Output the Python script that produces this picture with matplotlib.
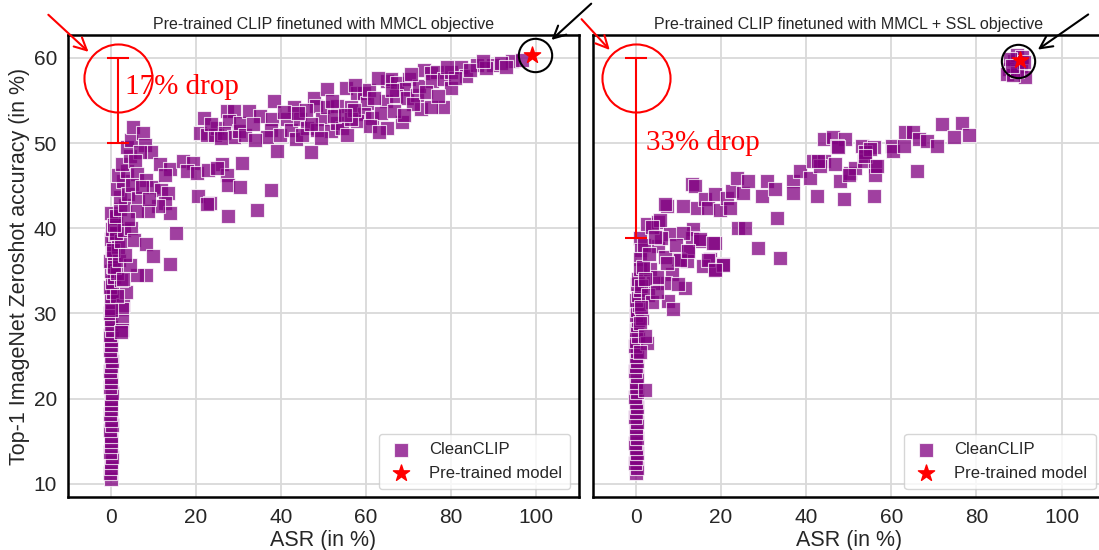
import matplotlib
matplotlib.use("Agg")
import matplotlib.pyplot as plt

plt.rcParams['font.family'] = ['Liberation Sans', 'DejaVu Sans']

# ---- CleanCLIP runs, MMCL objective: (ASR %, top-1 zero-shot accuracy %) ----
mmcl_asr = [
    0.1, -0.1, 0.2, 0.0, 0.3, -0.2, 0.1, 0.2, 0.0, -0.1, 0.3, 0.1, -0.2, 0.2, 0.0, 0.1, 0.3,
    -0.1, 0.0, 0.2, -0.2, 0.1, 0.3, 0.0, -0.1, 0.2, 0.1, -0.2, 0.3, 0.0, 0.2, -0.1, 0.1, 0.4,
    0.0, 0.6, -0.2, 0.3, 0.8, 0.1, 0.5, -0.1, 0.9, 0.3, 0.6, 0.0, 1.0, 0.4, 0.7, 1.2, 0.2,
    2.9, 2.7, 2.7, 2.6, 3.7, 2.5, 1.5, 0.9, 2.0, 1.8, 0.6, 2.5, 1.3, 3.2, 4.9, 0.9, 1.3, 2.2,
    3.5, 2.1, 1.5, 2.9, 1.8, 3.9, 2.6, 4.5, 3.9, 4.9, 5.3, 7.6, 8.0, 9.6, 6.9, 5.8, 6.3, 4.2,
    5.1, 6.5, 8.4, 10.0, 11.9, 13.5, 12.8, 14.0, 11.2, 8.8, 6.1, 7.3, 9.0, 4.0, 5.5, 15.4,
    8.3, 10.0, 13.9, 8.3, 6.1, 4.6, 3.4, 3.0, 1.6, 0.2, 2.5,
    11.6, 14.0, 17.1, 19.4, 17.9, 20.2, 23.0, 26.1, 27.3, 30.9, 27.7, 30.5, 37.6, 20.6, 23.4,
    22.6, 27.5, 34.4, 25.0, 12.8,
    21.9, 21.1, 22.7, 25.0, 24.6, 27.4, 28.9, 27.8, 26.6, 28.9, 30.1, 30.4, 32.5, 35.2, 38.3,
    37.9, 37.6, 36.8, 39.0, 39.9, 43.1, 41.5, 42.3, 43.5, 44.6, 46.2, 47.1, 47.8, 48.2, 49.7,
    48.5, 50.9, 50.9, 51.7, 53.3, 54.4, 53.3, 55.2, 56.4, 55.6, 58.0, 59.5, 60.3, 59.5, 61.5,
    58.0, 56.4, 65.0, 68.5, 65.0, 65.8, 67.4, 70.1, 68.9, 64.6, 67.0, 69.7, 72.1, 72.9, 72.5,
    73.6, 75.2, 76.8, 75.5, 78.4, 79.9, 79.9, 78.2, 75.2, 82.3, 83.5, 86.2, 89.8, 88.3, 94.3,
    96.6, 91.7,
    23.5, 26.0, 31.5, 33.5, 34.0, 40.8, 45.0, 45.8, 47.0, 52.0, 52.5, 57.2, 57.5, 60.8, 62.0,
    62.8, 63.5, 66.2, 70.6, 71.0, 74.0, 77.0, 81.0, 84.5, 87.5, 93.0, 44.0, 49.5, 55.0, 61.0,
    66.5, 63.0, 69.0, 79.0,
]
mmcl_acc = [
    10.6, 11.2, 11.9, 12.5, 13.1, 13.7, 14.4, 15.0, 15.6, 16.3, 16.9, 17.5, 18.2, 18.8, 19.4,
    20.0, 20.7, 21.3, 21.9, 22.5, 23.2, 23.8, 24.4, 25.0, 25.7, 26.3, 26.9, 27.5, 28.1, 28.8,
    29.4, 30.0, 30.6, 31.3, 31.9, 32.5, 33.1, 33.7, 34.3, 35.0, 35.6, 36.2, 36.8, 37.4, 38.1,
    38.7, 39.3, 39.9, 40.5, 41.2, 41.8,
    31.0, 30.5, 29.1, 28.0, 32.5, 33.9, 34.8, 35.5, 36.3, 37.8, 37.4, 38.5, 39.5, 39.8, 40.0,
    40.4, 41.4, 42.3, 42.7, 43.7, 44.6, 45.5, 46.2, 46.7, 47.5, 48.5, 49.6, 50.4, 51.9, 51.2,
    49.8, 49.0, 48.9, 47.9, 46.4, 44.0, 45.1, 43.6, 45.7, 44.9, 44.5, 44.2, 43.0, 41.8, 42.6,
    42.0, 42.0, 44.8, 43.4, 41.1, 38.6, 39.4, 38.1, 36.8, 35.8, 34.5, 34.5, 35.7, 36.9, 34.0,
    32.0, 30.4, 27.8,
    47.5, 47.0, 47.9, 47.7, 46.7, 46.5, 46.9, 47.5, 46.3, 47.7, 45.1, 44.9, 44.5, 43.8, 43.0,
    42.8, 41.4, 42.2, 47.1, 46.3,
    53.0, 51.2, 50.9, 51.8, 50.9, 53.8, 53.8, 52.6, 51.2, 50.7, 51.4, 52.4, 53.8, 53.2, 54.9,
    52.8, 51.6, 50.7, 49.1, 50.9, 54.2, 52.8, 51.6, 50.5, 52.8, 51.8, 48.9, 55.3, 54.4, 52.8,
    51.6, 54.2, 56.3, 51.4, 52.4, 51.8, 54.4, 56.5, 54.2, 50.9, 55.9, 55.9, 54.7, 53.4, 53.0,
    52.6, 52.8, 51.8, 52.5, 57.3, 57.5, 57.1, 57.5, 56.3, 54.9, 55.5, 55.3, 55.7, 54.0, 56.7,
    58.6, 58.2, 58.4, 57.3, 57.5, 58.4, 56.5, 54.2, 54.2, 59.0, 57.9, 59.2, 59.2, 58.8, 59.7,
    59.8, 59.4,
    52.2, 50.6, 50.9, 52.3, 50.4, 53.6, 51.0, 53.9, 52.3, 55.0, 53.2, 53.9, 56.8, 56.2, 55.3,
    57.6, 53.5, 56.2, 58.1, 54.6, 56.0, 55.5, 57.7, 58.6, 59.6, 58.9, 53.5, 50.6, 53.3, 52.0,
    53.8, 51.3, 53.3, 59.0,
]

# ---- CleanCLIP runs, MMCL + SSL objective ----
ssl_asr = [
    0.0, 0.2, -0.1, 0.1, 0.3, 0.0, -0.2, 0.2, 0.1, 0.0, 0.3, -0.1, 0.1, 0.2, 0.0, -0.2, 0.3,
    0.1, 0.0, 0.2, -0.1, 0.1, 0.3, 0.0, 0.2, -0.1, 0.1, 0.4, 0.0, 0.2, 0.5, 0.1, 0.3, 0.7,
    0.0, 0.4, 0.9, 0.2, 0.6, 2.5, 2.1, 1.0, 1.5,
    0.9, 2.5, 5.3, 7.2, 1.3, 0.9, 0.9, 3.3, 5.3, 8.0, 6.0, 13.5, 13.1, 15.1, 18.6, 12.3, 10.0,
    6.8, 11.9, 17.4, 15.8, 18.6, 20.5, 8.4, 6.8, 11.5, 4.1, 1.3, 2.9, 3.7, 1.3, 7.6, 8.8, 0.9,
    2.1, 6.8, 5.6, 3.7, 11.1, 1.7, 4.9, 2.0, 3.0, 4.5, 9.5, 10.4, 7.2, 2.2, 5.0, 9.8,
    11.1, 14.3, 13.1, 13.9, 16.2, 17.0, 18.6, 19.8, 21.3, 22.1, 22.5, 25.2, 23.7, 26.4, 24.1,
    25.6, 28.8, 33.9, 33.1, 29.6, 30.7, 32.7, 37.0, 37.0, 38.6, 40.9, 42.5, 41.7, 44.1, 43.3,
    46.8, 44.1, 46.4, 49.2, 47.2, 48.0, 48.8, 50.3, 51.5, 53.5, 53.1, 55.9, 53.9, 56.2, 56.2,
    55.9, 60.2, 60.5, 62.9, 63.3, 65.2, 66.4, 68.4, 70.7, 66.0, 71.9, 76.6, 78.2, 74.7, 15.0,
    18.2, 17.0, 20.5, 18.6, 12.3, 42.9, 47.6, 55.1, 53.9, 56.6, 50.0,
    87.6, 88.8, 90.4, 91.5, 87.2, 89.6, 90.8, 88.5, 89.5, 88.0, 91.1, 88.4,
]
ssl_acc = [
    11.2, 11.8, 12.4, 13.0, 13.6, 14.2, 14.8, 15.4, 16.0, 16.6, 17.2, 17.8, 18.4, 19.0, 19.6,
    20.2, 20.8, 21.4, 22.0, 22.6, 23.2, 23.8, 24.4, 25.0, 25.6, 26.2, 26.8, 27.4, 28.0, 28.6,
    29.2, 29.8, 30.4, 31.0, 31.6, 32.2, 32.8, 33.4, 34.0, 26.5, 21.0, 25.5, 29.5,
    38.9, 40.5, 40.7, 42.6, 37.5, 36.4, 35.2, 35.2, 37.9, 39.3, 38.9, 39.9, 38.9, 38.5, 38.3,
    37.3, 36.4, 36.6, 36.2, 36.4, 35.6, 35.2, 35.8, 34.6, 33.6, 33.0, 33.6, 33.2, 32.2, 31.3,
    30.7, 31.5, 30.5, 28.9, 27.3, 42.8, 41.0, 40.2, 39.4, 35.5, 34.3, 38.0, 37.0, 39.0, 38.0,
    36.3, 35.9, 34.0, 32.5, 33.5,
    42.6, 42.4, 45.2, 45.0, 43.4, 42.4, 44.0, 42.2, 43.6, 42.4, 44.4, 44.2, 45.9, 45.6, 40.0,
    40.0, 37.7, 36.5, 41.2, 43.8, 45.6, 44.6, 45.6, 44.2, 46.7, 45.9, 43.8, 47.9, 47.9, 47.3,
    47.5, 50.5, 50.7, 50.5, 49.7, 45.6, 43.4, 46.5, 47.1, 47.9, 49.7, 49.5, 48.9, 47.3, 46.3,
    43.8, 49.7, 49.1, 49.7, 51.3, 51.3, 50.5, 50.3, 49.7, 46.7, 52.2, 52.4, 50.9, 50.7, 38.7,
    38.3, 36.3, 35.7, 35.1, 37.3, 47.9, 49.5, 49.3, 48.5, 47.3, 46.2,
    58.7, 59.7, 59.1, 57.8, 58.1, 60.3, 60.1, 58.0, 58.5, 59.9, 59.5, 59.1,
]

# pre-trained (non-finetuned) model in each setting
pretrained_mmcl = (99.0, 60.3)
pretrained_ssl = (90.2, 59.8)

# accuracy drop annotations: (x, top, bottom, text)
drop_mmcl = (1.7, 60.0, 50.0, "17% drop")
drop_ssl = (0.0, 60.0, 38.8, "33% drop")

titles = ["Pre-trained CLIP finetuned with MMCL objective",
          "Pre-trained CLIP finetuned with MMCL + SSL objective"]
xticks = [0, 20, 40, 60, 80, 100]
yticks = [10, 20, 30, 40, 50, 60]

PURPLE = '#800080'
TXT = '#262626'

fig = plt.figure(figsize=(10.99, 5.5), dpi=100)
ax1 = fig.add_axes([68 / 1099, 52.7 / 550, 510.8 / 1099, 462.3 / 550])
ax2 = fig.add_axes([593.3 / 1099, 52.7 / 550, 510.8 / 1099, 462.3 / 550], sharey=ax1)


def style(ax, title):
    ax.set_xlim(-10, 110)
    ax.set_ylim(8.4, 62.7)
    ax.set_xticks(xticks)
    ax.set_yticks(yticks)
    ax.grid(True, color='#d9d9d9', lw=1.3)
    ax.set_axisbelow(True)
    for sp in ax.spines.values():
        sp.set_color('black')
        sp.set_linewidth(1.8)
    ax.tick_params(length=0, pad=8, labelsize=15, colors=TXT)
    ax.set_title(title, fontsize=11.5, color=TXT, pad=4)
    ax.set_xlabel("ASR (in %)", fontsize=15.5, color=TXT, labelpad=2)


def panel(ax, xs, ys, star, drop, circle, text_xy, red_arrow, black_arrow, black_circle):
    ax.scatter(xs, ys, marker='s', s=96, color=PURPLE, alpha=0.75,
               edgecolors='white', linewidths=0.8, label='CleanCLIP', zorder=2)
    ax.scatter([star[0]], [star[1]], marker='*', s=150, color='red',
               label='Pre-trained model', zorder=5)
    dx, top, bottom, txt = drop
    ax.errorbar([dx], [bottom], yerr=[[0], [top - bottom]], color='red',
                capsize=8, elinewidth=1.5, capthick=1.5, zorder=6)
    ax.plot([circle[0]], [circle[1]], marker='o', ms=49, mfc='none', mec='red',
            mew=1.5, zorder=6, clip_on=False)
    ax.plot([black_circle[0]], [black_circle[1]], marker='o', ms=24, mfc='none',
            mec='black', mew=1.5, zorder=6, clip_on=False)
    ax.text(text_xy[0], text_xy[1], txt, color='red', fontsize=21,
            family=['Liberation Serif', 'DejaVu Serif'], va='baseline', zorder=7)
    ax.annotate('', xy=red_arrow[1], xytext=red_arrow[0], annotation_clip=False,
                arrowprops=dict(arrowstyle='->', color='red', lw=1.5, mutation_scale=22))
    ax.annotate('', xy=black_arrow[1], xytext=black_arrow[0], annotation_clip=False,
                arrowprops=dict(arrowstyle='->', color='black', lw=1.5, mutation_scale=22))
    leg = ax.legend(loc='lower right', fontsize=12, frameon=True, fancybox=True,
                    framealpha=0.8, edgecolor='#cccccc', borderpad=0.5,
                    handlelength=1.6, handletextpad=0.9, scatterpoints=1)
    for t in leg.get_texts():
        t.set_color(TXT)


style(ax1, titles[0])
style(ax2, titles[1])

panel(ax1, mmcl_asr, mmcl_acc, pretrained_mmcl, drop_mmcl,
      circle=(1.7, 57.7), text_xy=(3.3, 55.8),
      red_arrow=((-15.1, 65.3), (-4.7, 60.5)),
      black_arrow=((113.4, 66.6), (103.1, 61.9)),
      black_circle=(99.7, 60.3))
panel(ax2, ssl_asr, ssl_acc, pretrained_ssl, drop_ssl,
      circle=(0.0, 57.7), text_xy=(2.4, 49.2),
      red_arrow=((-13.2, 64.8), (-5.7, 60.7)),
      black_arrow=((106.8, 65.3), (93.9, 60.8)),
      black_circle=(89.8, 59.7))

ax1.set_ylabel("Top-1 ImageNet Zeroshot accuracy (in %)", fontsize=15.5, color=TXT)
ax1.yaxis.set_label_coords(-0.074, 0.5)
plt.setp(ax2.get_yticklabels(), visible=False)

fig.savefig('out.png', dpi=100)
